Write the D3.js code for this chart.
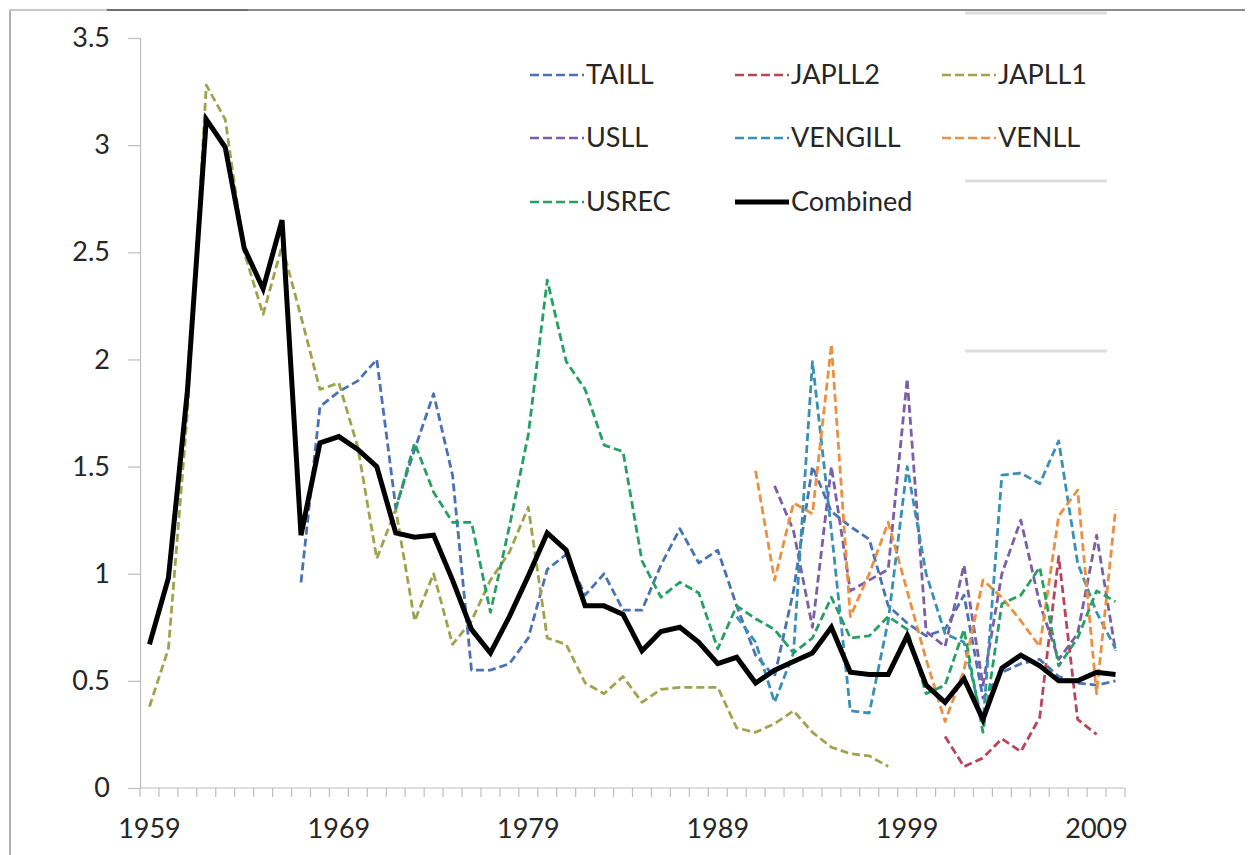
<!DOCTYPE html>
<html>
<head>
<meta charset="utf-8">
<script src="https://cdn.jsdelivr.net/npm/d3@7"></script>
<style>
  html, body { margin: 0; padding: 0; background: #ffffff; }
  svg { display: block; }
  text { font-family: Lato, "Open Sans", sans-serif; fill: #262626; }
</style>
</head>
<body>
<svg id="chart" width="1249" height="855"></svg>
<script>
// ---- categories ----
const years = [1959,1960,1961,1962,1963,1964,1965,1966,1967,1968,
               1969,1970,1971,1972,1973,1974,1975,1976,1977,1978,
               1979,1980,1981,1982,1983,1984,1985,1986,1987,1988,
               1989,1990,1991,1992,1993,1994,1995,1996,1997,1998,
               1999,2000,2001,2002,2003,2004,2005,2006,2007,2008,
               2009,2010];
const xTickLabels = [1959, 1969, 1979, 1989, 1999, 2009];
const yTickValues = [0, 0.5, 1, 1.5, 2, 2.5, 3, 3.5];

// ---- series values (null = no data) ----
const TAILL = [null,null,null,null,null,null,null,null,
  0.96,1.78,1.85,1.90,2.00,1.31,1.58,1.84,1.46,0.55,
  0.55,0.58,0.70,1.02,1.09,0.90,1.00,0.83,0.83,1.04,
  1.21,1.05,1.11,0.85,0.62,0.52,0.92,1.50,1.29,1.22,
  1.16,0.85,0.77,0.71,0.74,0.90,0.42,0.54,0.58,0.60,
  0.52,0.49,0.48,0.50];
const JAPLL2 = [null,null,null,null,null,null,null,null,null,null,
  null,null,null,null,null,null,null,null,null,null,
  null,null,null,null,null,null,null,null,null,null,
  null,null,null,null,null,null,null,null,null,null,
  null,null,0.24,0.10,0.14,0.23,0.17,0.33,1.08,0.32,
  0.25,null];
const JAPLL1 = [0.38,0.65,1.75,3.28,3.12,2.50,2.21,2.53,2.20,1.86,
  1.89,1.59,1.07,1.30,0.78,1.00,0.67,0.78,0.97,1.10,
  1.31,0.70,0.67,0.49,0.44,0.52,0.40,0.46,0.47,0.47,
  0.47,0.28,0.26,0.30,0.36,0.26,0.19,0.16,0.15,0.10,
  null,null,null,null,null,null,null,null,null,null,
  null,null];
const USLL = [null,null,null,null,null,null,null,null,null,null,
  null,null,null,null,null,null,null,null,null,null,
  null,null,null,null,null,null,null,null,null,null,
  null,null,null,
  1.41,1.20,0.75,1.50,0.92,0.97,1.02,1.91,0.73,0.66,
  1.04,0.48,1.00,1.25,0.86,0.60,0.72,1.18,0.64];
const VENGILL = [null,null,null,null,null,null,null,null,null,null,
  null,null,null,null,null,null,null,null,null,null,
  null,null,null,null,null,null,null,null,null,null,
  null,
  0.80,0.68,0.40,0.63,1.99,1.20,0.36,0.35,0.78,1.50,
  1.00,0.72,0.68,0.30,1.46,1.47,1.42,1.62,1.05,0.82,0.65];
const VENLL = [null,null,null,null,null,null,null,null,null,null,
  null,null,null,null,null,null,null,null,null,null,
  null,null,null,null,null,null,null,null,null,null,
  null,null,
  1.48,0.97,1.33,1.28,2.07,0.80,1.00,1.24,0.92,0.60,
  0.31,0.55,0.97,0.89,0.78,0.66,1.27,1.39,0.44,1.30];
const USREC = [null,null,null,null,null,null,null,null,null,null,
  null,null,null,
  1.30,1.61,1.38,1.24,1.24,0.82,1.22,1.65,2.37,1.99,
  1.86,1.60,1.57,1.06,0.89,0.96,0.91,0.65,0.85,0.79,
  0.74,0.63,0.70,0.89,0.70,0.71,0.80,0.74,0.44,0.48,
  0.74,0.26,0.86,0.90,1.03,0.57,0.70,0.92,0.87];
const Combined = [0.67,0.98,1.85,3.12,2.99,2.52,2.33,2.65,1.18,1.61,
  1.64,1.58,1.50,1.19,1.17,1.18,0.97,0.74,0.63,0.80,
  0.99,1.19,1.11,0.85,0.85,0.81,0.64,0.73,0.75,0.68,
  0.58,0.61,0.49,0.55,0.59,0.63,0.75,0.54,0.53,0.53,
  0.71,0.48,0.40,0.51,0.32,0.56,0.62,0.57,0.50,0.50,
  0.54,0.53];

const seriesNames = ["TAILL","JAPLL2","JAPLL1","USLL","VENGILL","VENLL","USREC","Combined"];
const seriesValues = [TAILL, JAPLL2, JAPLL1, USLL, VENGILL, VENLL, USREC, Combined];
const seriesColors = ["#4a72b2","#b8465a","#9ea44e","#7a5ea6","#3a90b4","#ec9040","#25a062","#000000"];

// ---- layout ----
const svg = d3.select("#chart");
const plotLeft = 140, plotRight = 1125, plotTop = 38, plotBottom = 788;

const x = d3.scaleBand().domain(years).range([plotLeft, plotRight]).padding(0);
const xc = yr => x(yr) + x.bandwidth() / 2;
const y = d3.scaleLinear().domain([0, 3.5]).range([plotBottom, plotTop]);

// frame artifacts
const frame = svg.append("g");
frame.append("rect").attr("x",9).attr("y",9).attr("width",2).attr("height",846).attr("fill","#b0b0b0");
frame.append("rect").attr("x",9).attr("y",9).attr("width",98).attr("height",2).attr("fill","#c8c8c8");
frame.append("rect").attr("x",107).attr("y",9).attr("width",141).attr("height",2).attr("fill","#707070");
frame.append("rect").attr("x",248).attr("y",9).attr("width",997).attr("height",2).attr("fill","#8c8c8c");
[13, 181, 351].forEach(yy => {
  frame.append("rect").attr("x",965).attr("y",yy - 1.5).attr("width",142).attr("height",3)
    .attr("fill","#dddddd");
});

// y axis
const yAxis = d3.axisLeft(y).tickValues(yTickValues).tickSize(12).tickPadding(18)
  .tickFormat(d => d3.format("")(d));
const gy = svg.append("g").attr("transform", `translate(${plotLeft},0)`).call(yAxis);
gy.select(".domain").attr("stroke","#bdbdbd").attr("stroke-width",1.2);
gy.selectAll(".tick line").attr("stroke","#bdbdbd").attr("stroke-width",1.2);
gy.selectAll(".tick text").style("font-family","Lato, sans-serif").style("font-size","27px")
  .attr("fill","#2a2a2a");

// x axis (Excel-style ticks between categories)
const gx = svg.append("g");
gx.append("line").attr("x1",plotLeft).attr("x2",plotRight).attr("y1",plotBottom).attr("y2",plotBottom)
  .attr("stroke","#bdbdbd").attr("stroke-width",1.2);
const boundaries = years.map(yr => x(yr)).concat([x(years[years.length-1]) + x.bandwidth()]);
gx.selectAll("line.tick").data(boundaries).join("line").attr("class","tick")
  .attr("x1", d => d).attr("x2", d => d).attr("y1", plotBottom).attr("y2", plotBottom + 9)
  .attr("stroke","#bdbdbd").attr("stroke-width",1.2);
gx.selectAll("text").data(xTickLabels).join("text")
  .attr("x", d => xc(d)).attr("y", 838).attr("text-anchor","middle")
  .style("font-size","27px").attr("fill","#2a2a2a").text(d => d);

// lines
const line = d3.line().defined(d => d.v != null).x(d => xc(d.yr)).y(d => y(d.v));
const gLines = svg.append("g");
seriesNames.forEach((name, i) => {
  if (name === "Combined") return;
  const data = years.map((yr, j) => ({yr, v: seriesValues[i][j]}));
  gLines.append("path").datum(data).attr("d", line)
    .attr("fill","none").attr("stroke", seriesColors[i]).attr("stroke-width", 2.8)
    .attr("stroke-dasharray","8,4").attr("stroke-linejoin","round");
});
{
  const i = seriesNames.indexOf("Combined");
  const data = years.map((yr, j) => ({yr, v: seriesValues[i][j]}));
  gLines.append("path").datum(data).attr("d", line)
    .attr("fill","none").attr("stroke","#000").attr("stroke-width", 5)
    .attr("stroke-linejoin","miter");
}

// legend
const legCols = [530, 735, 942];
const legRows = [75, 138, 202];
const leg = svg.append("g");
seriesNames.forEach((name, i) => {
  const cx = legCols[i % 3], cy = legRows[Math.floor(i / 3)];
  const isComb = name === "Combined";
  leg.append("line").attr("x1", cx).attr("x2", cx + 54).attr("y1", cy).attr("y2", cy)
    .attr("stroke", seriesColors[i]).attr("stroke-width", isComb ? 5 : 2.6)
    .attr("stroke-dasharray", isComb ? null : "9,4");
  leg.append("text").attr("x", cx + 56).attr("y", cy).attr("dy","0.35em")
    .style("font-size","27px").attr("fill","#262626").text(name);
});
</script>
</body>
</html>
